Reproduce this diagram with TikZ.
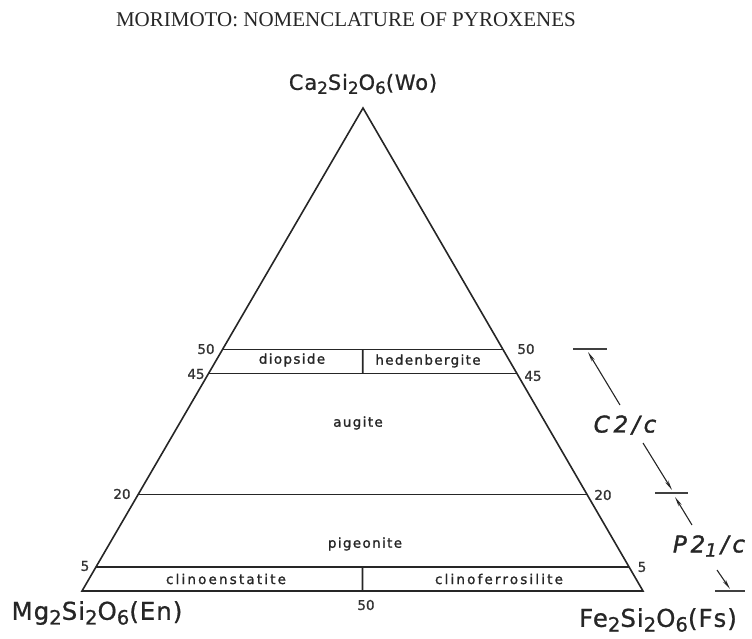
\documentclass[tikz,border=0pt]{standalone}
\usepackage{fontspec}
\setmainfont{Liberation Serif}
\newfontfamily\lblfont[LetterSpace=10,FakeBold=1.2]{DejaVu Sans}
\newfontfamily\lblwfont[LetterSpace=16,FakeBold=1.2]{DejaVu Sans}
\newfontfamily\vfont[LetterSpace=4,FakeBold=0.8]{DejaVu Sans}
\newfontfamily\nfont[FakeBold=1]{DejaVu Sans}
\newfontfamily\gfont[LetterSpace=6,FakeBold=1.5]{DejaVu Sans}
\newcommand{\lowsub}[1]{\raisebox{-0.35ex}{\scalebox{0.8}{#1}}}
\usetikzlibrary{calc,arrows.meta}
\begin{document}
\begin{tikzpicture}[x=1pt,y=-1pt,
  edge/.style={line width=1.6pt,black!85},
  field/.style={font=\lblfont\fontsize{13.5}{15}\selectfont,inner sep=0pt,text=black!85},
  fieldw/.style={font=\lblwfont\fontsize{13.5}{15}\selectfont,inner sep=0pt,text=black!85},
  num/.style={font=\nfont\fontsize{13.5}{15}\selectfont,inner sep=0pt,text=black!80},
  vert/.style={font=\vfont\fontsize{21}{24}\selectfont,inner sep=0pt,text=black!85},
  vertb/.style={font=\vfont\fontsize{24.5}{28}\selectfont,inner sep=0pt,text=black!85},
  grp/.style={font=\gfont\itshape\fontsize{23}{26}\selectfont,inner sep=0pt,text=black!85},
  arr/.style={line width=1.1pt,black!85,-{Stealth[length=10pt,width=3.5pt]}},
  tick/.style={line width=1.5pt,black!75}]
\useasboundingbox (0,0) rectangle (752,638);
\node[font=\fontsize{21}{24}\selectfont,text=black!85] (title) at (346,20) {MORIMOTO: NOMENCLATURE OF PYROXENES};
\coordinate (Wo) at (363,108);
\coordinate (En) at (82,591);
\coordinate (Fs) at (643,591);
\draw[edge,line join=miter] (En) -- (Wo) -- (Fs) -- cycle;
\foreach \f/\n in {0.5/a,0.45/b,0.2/c,0.05/d}{
  \coordinate (L\n) at ($(En)!\f!(Wo)$);
  \coordinate (R\n) at ($(Fs)!\f!(Wo)$);
  \draw[edge] (L\n) -- (R\n);
}
\draw[edge] ($(La)!0.5!(Ra)$) -- ($(Lb)!0.5!(Rb)$);
\draw[edge] ($(Ld)!0.5!(Rd)$) -- ($(En)!0.5!(Fs)$);
\node[field] (diop) at (292,360) {diopside};
\node[field] (hed) at (428,361) {hedenbergite};
\node[field] (aug) at (358,423) {augite};
\node[field] (pig) at (365,544) {pigeonite};
\node[fieldw] (cen) at (226,579) {clinoenstatite};
\node[fieldw] (cfs) at (499,579) {clinoferrosilite};
\node[num] (n1) at (206,349) {50};
\node[num] (n2) at (196,374) {45};
\node[num] (n3) at (122,494) {20};
\node[num] (n4) at (85,566) {5};
\node[num] (n5) at (526,349) {50};
\node[num] (n6) at (533,376) {45};
\node[num] (n7) at (603,495) {20};
\node[num] (n8) at (642,567) {5};
\node[num] (n9) at (366,605) {50};
\node[vert] (wo) at (363,84) {Ca\lowsub{2}Si\lowsub{2}O\lowsub{6}(Wo)};
\node[vertb] (en) at (97,613) {Mg\lowsub{2}Si\lowsub{2}O\lowsub{6}(En)};
\node[vertb] (fs) at (658,620) {Fe\lowsub{2}Si\lowsub{2}O\lowsub{6}(Fs)};
\draw[tick] (573,349) -- (607,349);
\draw[tick] (655,493) -- (688,493);
\draw[tick] (715,591) -- (745,591);
\node[grp] (c2c) at (625,425) {C\,2\,/\,c};
\node[grp] (p21c) at (709,546) {P\,2\lowsub{1}\,/\,c};
\draw[arr] (620,405) -- (588,352);
\draw[arr] (643,443) -- (672,490);
\draw[arr] (692,525) -- (675,497);
\draw[arr] (717,570) -- (730,589);
\end{tikzpicture}
\end{document}
